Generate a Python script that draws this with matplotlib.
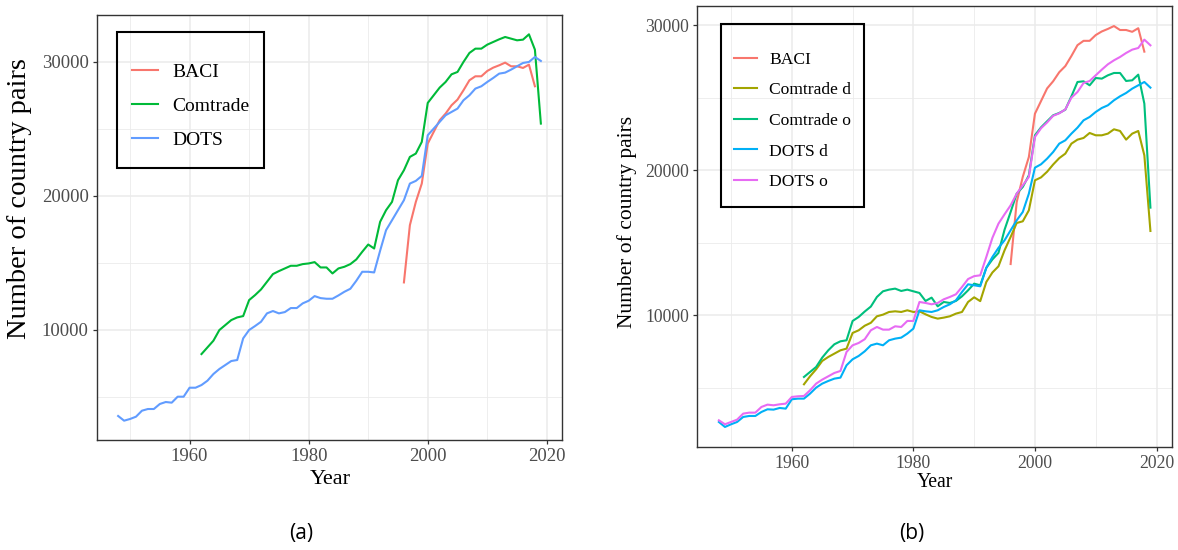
import numpy as np
import matplotlib
matplotlib.use('Agg')
import matplotlib.pyplot as plt
from matplotlib.patches import Rectangle
from matplotlib.ticker import MultipleLocator

# ---- data ----
years_dots = np.arange(1948, 2020)
years_comtrade = np.arange(1962, 2020)
years_baci = np.arange(1996, 2019)

# (a) left panel
dots = [3559, 3208, 3335, 3506, 3954, 4080, 4080, 4455, 4603, 4553,
        5000, 5000, 5670, 5670, 5870, 6194, 6693, 7067, 7365, 7664,
        7739, 9357, 9980, 10278, 10597, 11223, 11398, 11223, 11320, 11620,
        11620, 11970, 12165, 12513, 12363, 12315, 12315, 12563, 12836, 13060,
        13657, 14329, 14329, 14280, 15900, 17436, 18180, 18930, 19675, 20919,
        21118, 21490, 24526, 25024, 25522, 26020, 26268, 26517, 27139, 27512,
        28010, 28184, 28507, 28806, 29129, 29204, 29428, 29677, 29925, 30000,
        30373, 30075]
comtrade = [8184, 8682, 9180, 9976, 10349, 10722, 10921, 11021,
            12215, 12588, 13011, 13583, 14156, 14380, 14579, 14778, 14778, 14902,
            14952, 15051, 14653, 14653, 14205, 14579, 14703, 14902, 15250, 15823,
            16366, 16067, 18058, 18929, 19550, 21167, 21914, 22909, 23158, 24029,
            26940, 27512, 28084, 28507, 29079, 29254, 30000, 30672, 30995, 30995,
            31294, 31493, 31692, 31866, 31742, 31617, 31667, 32065, 30921, 25397]
baci = [13534, 17809, 19550, 20919,
        23904, 24775, 25646, 26144, 26766, 27189, 27885, 28632, 28930, 28930,
        29328, 29577, 29751, 29950, 29677, 29677, 29552, 29801, 28184]

# (b) right panel
dots_d = [2641, 2297, 2481, 2641, 2986, 3055, 3055, 3331, 3515, 3492,
          3607, 3561, 4205, 4251, 4251, 4596, 5010, 5285, 5469, 5630,
          5699, 6550, 6964, 7194, 7516, 7929, 8045, 7930, 8275, 8389,
          8458, 8734, 9079, 10343, 10274, 10228, 10343, 10573, 10757, 11033,
          11608, 12137, 12068, 11999, 13275, 14020, 14650, 15171, 15861, 16551,
          17125, 18390, 20183, 20414, 20804, 21264, 21839, 22069, 22529, 22942,
          23448, 23678, 24023, 24299, 24483, 24828, 25104, 25333, 25632, 25862,
          26092, 25701]
dots_o = [2756, 2481, 2641, 2802, 3216, 3285, 3285, 3676, 3837, 3791,
          3860, 3906, 4366, 4412, 4435, 4826, 5285, 5561, 5791, 6021,
          6159, 7470, 7929, 8090, 8350, 8964, 9194, 9010, 9010, 9240,
          9194, 9608, 9608, 10918, 10849, 10757, 10849, 11102, 11263, 11447,
          11953, 12500, 12700, 12757, 14022, 15340, 16321, 16965, 17585, 18390,
          18965, 19540, 22298, 22900, 23300, 23760, 23930, 24200, 25011, 25402,
          26023, 26161, 26552, 26943, 27311, 27586, 27816, 28092, 28322, 28437,
          29012, 28621]
comtrade_o = [5745, 6090, 6435, 7079, 7584, 8000, 8205, 8274, 9607, 9883,
              10260, 10600, 11263, 11654, 11769, 11838, 11677, 11769, 11654, 11539,
              10987, 11217, 10619, 10918, 10849, 10987, 11309, 11723, 12183, 12068,
              13275, 13850, 14300, 15900, 17125, 18390, 18850, 19655, 22413, 22960,
              23380, 23793, 23954, 24184, 25104, 26092, 26138, 25862, 26368, 26322,
              26552, 26713, 26713, 26161, 26207, 26598, 24598, 17425]
comtrade_d = [5239, 5791, 6274, 6849, 7125, 7355, 7584, 7700, 8780, 8964,
              9280, 9480, 9930, 10044, 10228, 10274, 10228, 10343, 10228, 10274,
              10067, 9884, 9769, 9838, 9930, 10113, 10228, 10918, 11240, 10975,
              12298, 12950, 13378, 14480, 15401, 16367, 16482, 17241, 19310, 19510,
              19900, 20400, 20840, 21150, 21839, 22115, 22230, 22575, 22414, 22414,
              22529, 22828, 22713, 22115, 22529, 22713, 21035, 15816]

serif = 'Liberation Serif'
W, H = 1178, 550
fig = plt.figure(figsize=(W / 100, H / 100), dpi=100)


def px_rect(x0, y0, x1, y1):
    return [x0 / W, 1 - y1 / H, (x1 - x0) / W, (y1 - y0) / H]


def style_axes(ax, tick_size):
    for s in ax.spines.values():
        s.set_color('#333333')
        s.set_linewidth(1.0)
    ax.xaxis.set_major_locator(MultipleLocator(20))
    ax.xaxis.set_minor_locator(MultipleLocator(10))
    ax.yaxis.set_major_locator(MultipleLocator(10000))
    ax.yaxis.set_minor_locator(MultipleLocator(5000))
    ax.grid(which='major', color='#ebebeb', lw=1.1)
    ax.grid(which='minor', color='#ebebeb', lw=0.6)
    ax.set_axisbelow(True)
    ax.tick_params(which='major', length=3, width=0.9, color='#333333',
                   labelcolor='#4d4d4d', labelsize=tick_size, pad=3)
    ax.tick_params(which='minor', length=0)
    for lab in ax.get_xticklabels() + ax.get_yticklabels():
        lab.set_family(serif)


def expand(lo, hi):
    r = hi - lo
    return lo - 0.05 * r, hi + 0.05 * r


# ---- (a) ----
ax1 = fig.add_axes(px_rect(97, 15, 562, 440))
ax1.plot(years_baci, baci, color='#F8766D', lw=1.5, label='BACI')
ax1.plot(years_comtrade, comtrade, color='#00BA38', lw=1.5, label='Comtrade')
ax1.plot(years_dots, dots, color='#619CFF', lw=1.5, label='DOTS')
ax1.set_xlim(*expand(1948, 2019))
allv = dots + comtrade + baci
ax1.set_ylim(*expand(min(allv), max(allv)))
style_axes(ax1, 13.5)
ax1.set_xlabel('Year', fontsize=16, family=serif)
ax1.set_ylabel('Number of country pairs', fontsize=20.5, family=serif)
ax1.xaxis.label.set_va('center')
ax1.yaxis.label.set_va('center')
ax1.xaxis.set_label_coords(0.501, -0.094)
ax1.yaxis.set_label_coords(-0.1656, 0.569)
fig.patches.append(Rectangle((116.7 / W, 1 - 168 / H), (264 - 116.7) / W, (168 - 31.7) / H,
                             transform=fig.transFigure, fill=False, ec='black', lw=1.5))
ax1.legend(loc='center left', bbox_to_anchor=(131.7 / W, 1 - 106.2 / H),
           bbox_transform=fig.transFigure, frameon=False, borderpad=0, borderaxespad=0,
           handlelength=1.35, handletextpad=0.75, labelspacing=0.85,
           prop={'family': serif, 'size': 14})

# ---- (b) ----
ax2 = fig.add_axes(px_rect(697.3, 6, 1172, 447))
ax2.plot(years_baci, baci, color='#F8766D', lw=1.5, label='BACI')
ax2.plot(years_comtrade, comtrade_d, color='#A3A500', lw=1.5, label='Comtrade d')
ax2.plot(years_comtrade, comtrade_o, color='#00BF7D', lw=1.5, label='Comtrade o')
ax2.plot(years_dots, dots_d, color='#00B0F6', lw=1.5, label='DOTS d')
ax2.plot(years_dots, dots_o, color='#E76BF3', lw=1.5, label='DOTS o')
ax2.set_xlim(*expand(1948, 2019))
allv2 = baci + comtrade_d + comtrade_o + dots_d + dots_o
ax2.set_ylim(*expand(min(allv2), max(allv2)))
style_axes(ax2, 12.7)
ax2.set_xlabel('Year', fontsize=14.2, family=serif)
ax2.set_ylabel('Number of country pairs', fontsize=15.5, family=serif)
ax2.xaxis.label.set_va('center')
ax2.yaxis.label.set_va('center')
ax2.xaxis.set_label_coords(0.5007, -0.0816)
ax2.yaxis.set_label_coords(-0.148, 0.511)
fig.patches.append(Rectangle((720.7 / W, 1 - 207.3 / H), (864.3 - 720.7) / W, (207.3 - 24.3) / H,
                             transform=fig.transFigure, fill=False, ec='black', lw=1.5))
ax2.legend(loc='center left', bbox_to_anchor=(734 / W, 1 - 120.85 / H),
           bbox_transform=fig.transFigure, frameon=False, borderpad=0, borderaxespad=0,
           handlelength=1.3, handletextpad=0.72, labelspacing=0.82,
           prop={'family': serif, 'size': 12.6})

# captions
fig.text(301 / W, 1 - 534 / H, '(a)', ha='center', va='center', fontsize=15, family='Open Sans')
fig.text(912 / W, 1 - 534 / H, '(b)', ha='center', va='center', fontsize=15, family='Open Sans')

fig.savefig('out.png', dpi=100)
